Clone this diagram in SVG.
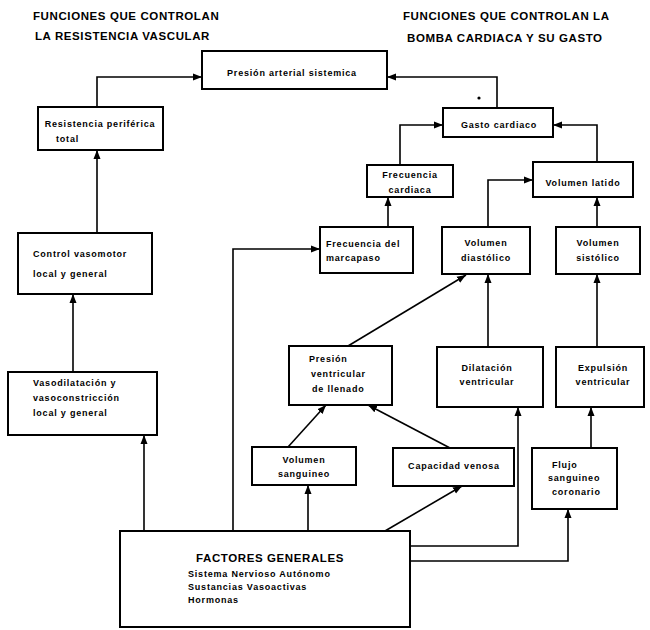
<svg xmlns="http://www.w3.org/2000/svg" width="650" height="630" viewBox="0 0 650 630">
<style>
.box{fill:#fff;stroke:#000;stroke-width:2}
.t{font-family:"Liberation Sans",Arial,sans-serif;font-size:9px;font-weight:bold;fill:#000;letter-spacing:0.8px}
.c{text-anchor:middle}
.h{font-family:"Liberation Sans",Arial,sans-serif;font-size:11.5px;font-weight:bold;fill:#000;letter-spacing:0.6px}
.con path{fill:none;stroke:#000;stroke-width:1.6;marker-end:url(#ah)}
</style>
<defs>
<marker id="ah" markerUnits="userSpaceOnUse" markerWidth="10" markerHeight="8" refX="9" refY="4" orient="auto">
<path d="M0,0.5 L9,4 L0,7.5 z" fill="#000"/>
</marker>
</defs>
<rect width="650" height="630" fill="#fff"/>
<g id="headers">
<text class="h" x="33" y="20">FUNCIONES QUE CONTROLAN</text>
<text class="h" x="35" y="40">LA RESISTENCIA VASCULAR</text>
<text class="h" x="403" y="20">FUNCIONES QUE CONTROLAN LA</text>
<text class="h" x="407" y="42">BOMBA CARDIACA Y SU GASTO</text>
</g>
<g class="con" id="connectors">
<path d="M97,107 V77 H202"/>
<path d="M497,108 V77 H387"/>
<path d="M97,233 V150"/>
<path d="M73,372 V294"/>
<path d="M144,531 V435"/>
<path d="M233,531 V249 H320"/>
<path d="M308,531 V485"/>
<path d="M385,531 L462,486"/>
<path d="M410,546 H518 V407"/>
<path d="M410,561 H568 V509"/>
<path d="M288,447 L326,405"/>
<path d="M450,448 L368,405"/>
<path d="M348,346 L466,275"/>
<path d="M488,347 V274"/>
<path d="M488,227 V180 H533"/>
<path d="M388,227 V197"/>
<path d="M400,165 V125 H443"/>
<path d="M597,162 V125 H553"/>
<path d="M597,227 V197"/>
<path d="M597,347 V274"/>
<path d="M591,448 V407"/>
<circle cx="479" cy="98" r="1.6" fill="#000"/>
</g>
<g id="presion-arterial">
<rect class="box" x="202" y="51" width="185" height="38"/>
<text class="t c" x="292" y="76">Presión arterial sistemica</text>
</g>
<g id="resistencia">
<rect class="box" x="38" y="107" width="125" height="43"/>
<text class="t c" x="100" y="127">Resistencia periférica</text>
<text class="t" x="56" y="142">total</text>
</g>
<g id="control-vasomotor">
<rect class="box" x="18" y="233" width="134" height="61"/>
<text class="t" x="33" y="257">Control vasomotor</text>
<text class="t" x="33" y="277">local y general</text>
</g>
<g id="vasodilatacion">
<rect class="box" x="8" y="372" width="149" height="63"/>
<text class="t" x="33" y="386">Vasodilatación y</text>
<text class="t" x="33" y="401">vasoconstricción</text>
<text class="t" x="33" y="416">local y general</text>
</g>
<g id="factores">
<rect class="box" x="120" y="531" width="290" height="96"/>
<text class="h c" x="270" y="562" style="font-size:11.5px">FACTORES GENERALES</text>
<text class="t" x="188" y="577">Sistema Nervioso Autónomo</text>
<text class="t" x="188" y="590">Sustancias Vasoactivas</text>
<text class="t" x="188" y="603">Hormonas</text>
</g>
<g id="gasto">
<rect class="box" x="443" y="108" width="110" height="29"/>
<text class="t c" x="499" y="128">Gasto cardiaco</text>
</g>
<g id="frecuencia-cardiaca">
<rect class="box" x="367" y="165" width="86" height="32"/>
<text class="t c" x="410" y="178">Frecuencia</text>
<text class="t c" x="410" y="193">cardiaca</text>
</g>
<g id="volumen-latido">
<rect class="box" x="533" y="162" width="100" height="35"/>
<text class="t c" x="583" y="186">Volumen latido</text>
</g>
<g id="marcapaso">
<rect class="box" x="320" y="227" width="93" height="46"/>
<text class="t" x="326" y="247">Frecuencia del</text>
<text class="t" x="326" y="261">marcapaso</text>
</g>
<g id="diastolico">
<rect class="box" x="442" y="227" width="88" height="47"/>
<text class="t c" x="486" y="246">Volumen</text>
<text class="t c" x="486" y="261">diastólico</text>
</g>
<g id="sistolico">
<rect class="box" x="556" y="227" width="84" height="47"/>
<text class="t c" x="598" y="246">Volumen</text>
<text class="t c" x="598" y="261">sistólico</text>
</g>
<g id="presion-ventricular">
<rect class="box" x="289" y="346" width="103" height="59"/>
<text class="t" x="309" y="362">Presión</text>
<text class="t" x="311" y="377">ventricular</text>
<text class="t" x="312" y="392">de llenado</text>
</g>
<g id="dilatacion">
<rect class="box" x="437" y="347" width="106" height="60"/>
<text class="t c" x="487" y="371">Dilatación</text>
<text class="t c" x="487" y="385">ventricular</text>
</g>
<g id="expulsion">
<rect class="box" x="556" y="347" width="88" height="60"/>
<text class="t c" x="603" y="371">Expulsión</text>
<text class="t c" x="603" y="385">ventricular</text>
</g>
<g id="volumen-sanguineo">
<rect class="box" x="252" y="447" width="104" height="38"/>
<text class="t c" x="304" y="463">Volumen</text>
<text class="t c" x="304" y="477">sanguineo</text>
</g>
<g id="capacidad-venosa">
<rect class="box" x="393" y="448" width="121" height="38"/>
<text class="t c" x="454" y="469">Capacidad venosa</text>
</g>
<g id="flujo-coronario">
<rect class="box" x="532" y="448" width="85" height="61"/>
<text class="t" x="552" y="468">Flujo</text>
<text class="t" x="548" y="481">sanguineo</text>
<text class="t" x="552" y="495">coronario</text>
</g>
</svg>
